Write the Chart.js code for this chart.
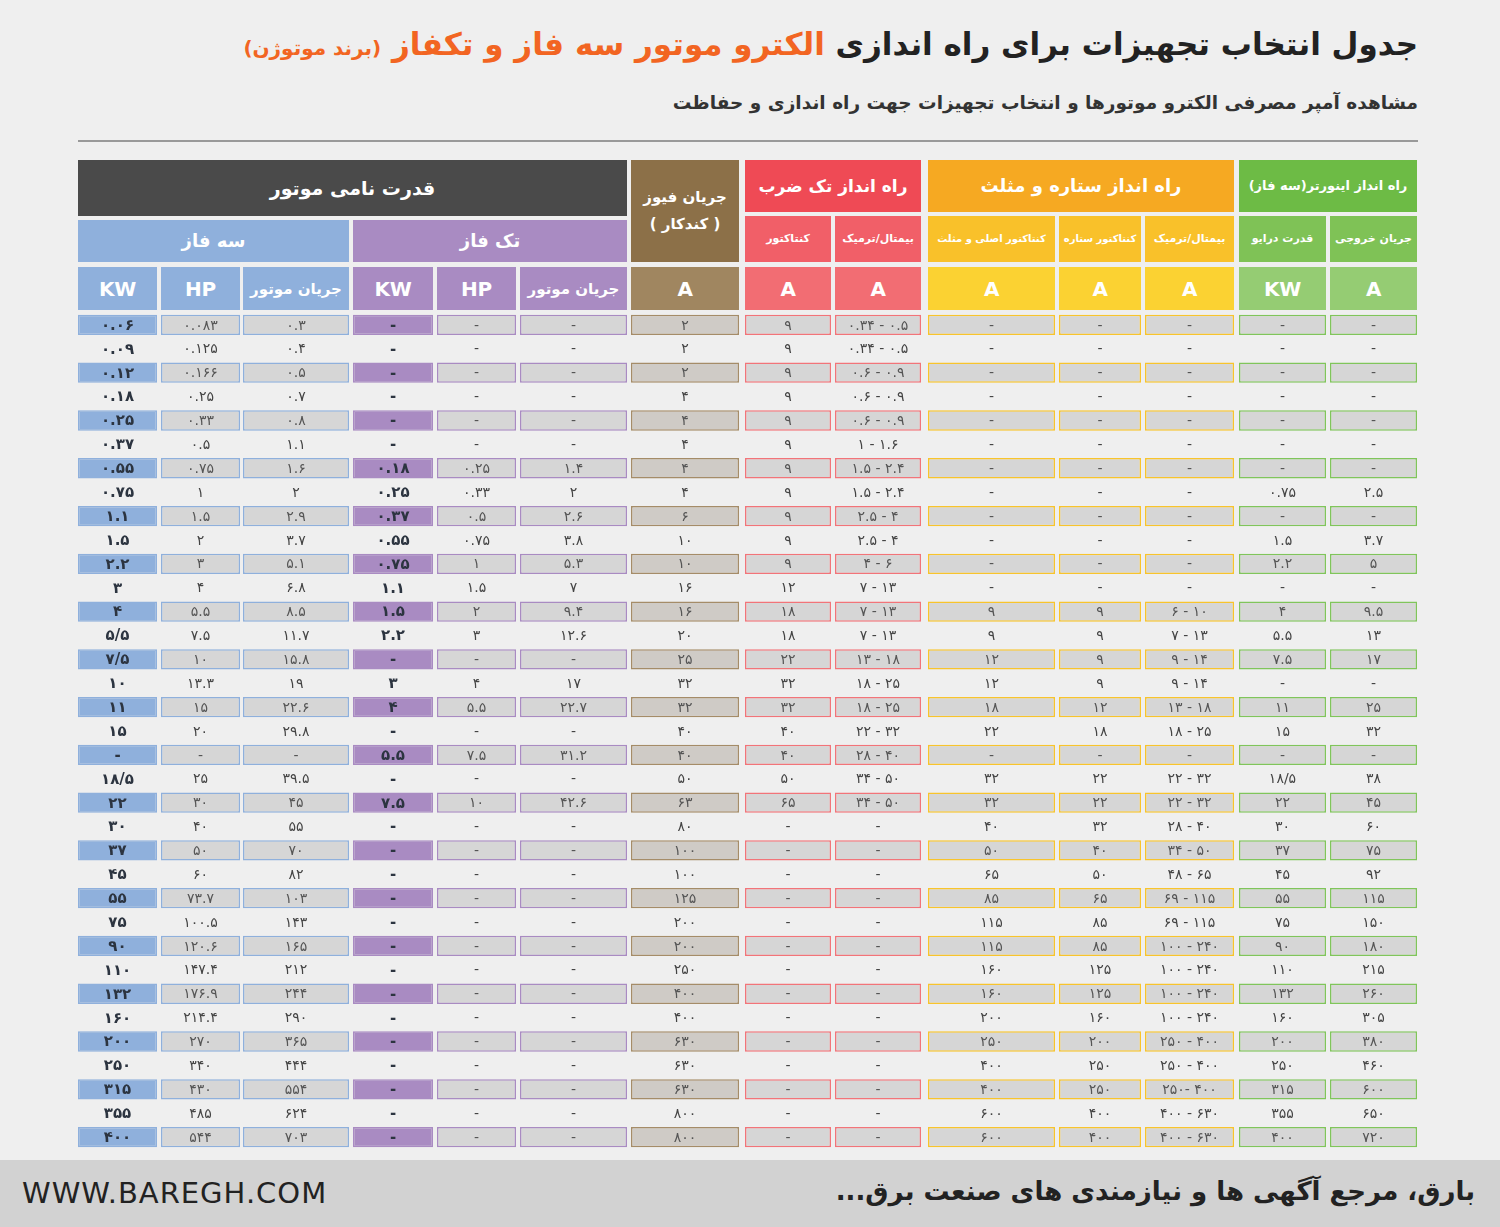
<!DOCTYPE html>
<html><head><meta charset="utf-8">
<script src="https://cdn.jsdelivr.net/npm/chart.js@4"></script>
<style>
body{margin:0;width:1500px;height:1227px;background:#efefef;font-family:"DejaVu Sans",sans-serif;position:relative;overflow:hidden}
.h{position:absolute;display:flex;align-items:center;justify-content:center;font-weight:bold;color:#fff;text-align:center;direction:rtl;white-space:nowrap;letter-spacing:-0.3px}
#title{position:absolute;right:82px;top:26px;font-size:31px;font-weight:bold;direction:rtl;color:#222;white-space:nowrap}
#sub{position:absolute;right:82px;top:92px;font-size:18.5px;font-weight:bold;direction:rtl;color:#333;white-space:nowrap}
#rule{position:absolute;left:78px;top:140px;width:1340px;height:2px;background:#999}
#foot{position:absolute;left:0;top:1160px;width:1500px;height:67px;background:#d2d2d2}
#body{position:absolute;left:78px;top:313px;width:1340px;height:836px}
</style></head><body>
<div id="title">جدول انتخاب تجهیزات برای راه اندازی <span style="color:#f26522">الکترو موتور سه فاز و تکفاز</span> <span style="color:#f26522;font-size:20px">(برند موتوژن)</span></div>
<div id="sub">مشاهده آمپر مصرفی الکترو موتورها و انتخاب تجهیزات جهت راه اندازی و حفاظت</div>
<div id="rule"></div>
<div id="heads"></div>
<div id="body"><canvas id="c"></canvas></div>
<div id="foot">
  <div style="position:absolute;left:22px;top:16px;font-size:29px;color:#222;letter-spacing:1px">WWW.BAREGH.COM</div>
  <div style="position:absolute;right:25px;top:16px;font-size:26px;font-weight:bold;color:#222;direction:rtl">بارق، مرجع آگهی ها و نیازمندی های صنعت برق...</div>
</div>
<script>
// table columns, left to right as drawn
const kw3 = ['0.06','0.09','0.12','0.18','0.25','0.37','0.55','0.75','1.1','1.5','2.2','3','4','5/5','7/5','10','11','15','-','18/5','22','30','37','45','55','75','90','110','132','160','200','250','315','355','400'];
const hp3 = ['0.083','0.125','0.166','0.25','0.33','0.5','0.75','1','1.5','2','3','4','5.5','7.5','10','13.3','15','20','-','25','30','40','50','60','73.7','100.5','120.6','147.4','176.9','214.4','270','340','430','485','544'];
const amp3 = ['0.3','0.4','0.5','0.7','0.8','1.1','1.6','2','2.9','3.7','5.1','6.8','8.5','11.7','15.8','19','22.6','29.8','-','39.5','45','55','70','82','103','143','165','212','244','290','365','444','554','624','703'];
const kw1 = ['-','-','-','-','-','-','0.18','0.25','0.37','0.55','0.75','1.1','1.5','2.2','-','3','4','-','5.5','-','7.5','-','-','-','-','-','-','-','-','-','-','-','-','-','-'];
const hp1 = ['-','-','-','-','-','-','0.25','0.33','0.5','0.75','1','1.5','2','3','-','4','5.5','-','7.5','-','10','-','-','-','-','-','-','-','-','-','-','-','-','-','-'];
const amp1 = ['-','-','-','-','-','-','1.4','2','2.6','3.8','5.3','7','9.4','12.6','-','17','22.7','-','31.2','-','42.6','-','-','-','-','-','-','-','-','-','-','-','-','-','-'];
const fuse = ['2','2','2','4','4','4','4','4','6','10','10','16','16','20','25','32','32','40','40','50','63','80','100','100','125','200','200','250','400','400','630','630','630','800','800'];
const dolCont = ['9','9','9','9','9','9','9','9','9','9','9','12','18','18','22','32','32','40','40','50','65','-','-','-','-','-','-','-','-','-','-','-','-','-','-'];
const dolTherm = ['0.34 - 0.5','0.34 - 0.5','0.6 - 0.9','0.6 - 0.9','0.6 - 0.9','1 - 1.6','1.5 - 2.4','1.5 - 2.4','2.5 - 4','2.5 - 4','4 - 6','7 - 13','7 - 13','7 - 13','13 - 18','18 - 25','18 - 25','22 - 32','28 - 40','34 - 50','34 - 50','-','-','-','-','-','-','-','-','-','-','-','-','-','-'];
const sdMain = ['-','-','-','-','-','-','-','-','-','-','-','-','9','9','12','12','18','22','-','32','32','40','50','65','85','115','115','160','160','200','250','400','400','600','600'];
const sdStar = ['-','-','-','-','-','-','-','-','-','-','-','-','9','9','9','9','12','18','-','22','22','32','40','50','65','85','85','125','125','160','200','250','250','400','400'];
const sdTherm = ['-','-','-','-','-','-','-','-','-','-','-','-','6 - 10','7 - 13','9 - 14','9 - 14','13 - 18','18 - 25','-','22 - 32','22 - 32','28 - 40','34 - 50','48 - 65','69 - 115','69 - 115','100 - 240','100 - 240','100 - 240','100 - 240','250 - 400','250 - 400','250- 400','400 - 630','400 - 630'];
const invKw = ['-','-','-','-','-','-','-','0.75','-','1.5','2.2','-','4','5.5','7.5','-','11','15','-','18/5','22','30','37','45','55','75','90','110','132','160','200','250','315','355','400'];
const invAmp = ['-','-','-','-','-','-','-','2.5','-','3.7','5','-','9.5','13','17','-','25','32','-','38','45','60','75','92','115','150','180','215','260','305','380','460','600','650','720'];

const COLUMNS = [kw3, hp3, amp3, kw1, hp1, amp1, fuse, dolCont, dolTherm, sdMain, sdStar, sdTherm, invKw, invAmp];

// layout: column edges in px relative to table left (78)
const EDGES = [[0,79],[83,162],[165,271],[275,355],[359,438],[442,549],[553,661],[667,753],[757,843],[850,977],[981,1063],[1067,1156],[1161,1248],[1252,1339]];
const BLUE = '#8fb0dc', PURPLE = '#a98bc2', BROWN = '#a58c68', PINK = '#f27479', YELLOW = '#f8c42c', GREEN = '#80c55b';
const STYLE = [
  { fill: BLUE, border: BLUE, bold: true },
  { fill: '#d6d6d6', border: BLUE }, { fill: '#d6d6d6', border: BLUE },
  { fill: PURPLE, border: PURPLE, bold: true },
  { fill: '#d6d6d6', border: PURPLE }, { fill: '#d6d6d6', border: PURPLE },
  { fill: '#cfcbc6', border: BROWN },
  { fill: '#d6d6d6', border: PINK }, { fill: '#d6d6d6', border: PINK },
  { fill: '#d6d6d6', border: YELLOW }, { fill: '#d6d6d6', border: YELLOW }, { fill: '#d6d6d6', border: YELLOW },
  { fill: '#d6d6d6', border: GREEN }, { fill: '#d6d6d6', border: GREEN },
];

const fa = (s) => s.replace(/[0-9]/g, (d) => '۰۱۲۳۴۵۶۷۸۹'[d]);
const rows = kw3.map((_, i) => String(i + 1));

const cellText = {
  id: 'cellText',
  afterDatasetsDraw(chart) {
    const ctx = chart.ctx;
    ctx.save();
    ctx.textAlign = 'center';
    ctx.textBaseline = 'middle';
    chart.data.datasets.forEach((ds, c) => {
      chart.getDatasetMeta(c).data.forEach((el, r) => {
        const { x, base, y } = el.getProps(['x', 'base', 'y'], true);
        const odd = r % 2 === 0;
        ctx.fillStyle = STYLE[c].bold ? '#2c3440' : (odd ? '#555' : '#444');
        ctx.font = `${STYLE[c].bold ? 'bold 15px' : '14px'} "DejaVu Sans", sans-serif`;
        ctx.fillText(fa(COLUMNS[c][r]), (x + base) / 2, y + 1);
      });
    });
    ctx.restore();
  },
};

new Chart(document.getElementById('c'), {
  type: 'bar',
  data: {
    labels: rows,
    datasets: COLUMNS.map((col, c) => ({
      data: col.map(() => EDGES[c]),
      backgroundColor: col.map((_, r) => (r % 2 === 0 ? STYLE[c].fill : 'rgba(0,0,0,0)')),
      borderColor: col.map((_, r) => (r % 2 === 0 ? STYLE[c].border : 'rgba(0,0,0,0)')),
      borderWidth: 1.5,
      borderSkipped: false,
      barPercentage: 1,
      categoryPercentage: 0.85,
      grouped: false,
    })),
  },
  options: {
    indexAxis: 'y',
    responsive: true,
    maintainAspectRatio: false,
    animation: false,
    layout: { padding: 0 },
    plugins: { legend: { display: false }, tooltip: { enabled: false } },
    scales: {
      x: { type: 'linear', min: 0, max: 1340, display: false },
      y: { type: 'category', display: false },
    },
  },
  plugins: [cellText],
});

// header blocks
const HEADS = [
  ['قدرت نامی موتور', 78, 160, 549, 56, '#4a4a4a', 19],
  ['جریان فیوز<br>( کندکار )', 631, 160, 108, 102, '#8c7048', 15],
  ['راه انداز تک ضرب', 745, 160, 176, 52, '#ef4a55', 17],
  ['راه انداز ستاره و مثلث', 928, 160, 306, 52, '#f6a922', 18],
  ['راه انداز اینورتر(سه فاز)', 1239, 160, 178, 52, '#6dbb45', 13],
  ['سه فاز', 78, 220, 271, 42, BLUE, 18],
  ['تک فاز', 353, 220, 274, 42, PURPLE, 18],
  ['کنتاکتور', 745, 216, 86, 46, '#f15f68', 11],
  ['بیمتال/ترمیک', 835, 216, 86, 46, '#f15f68', 11],
  ['کنتاکتور اصلی و مثلث', 928, 216, 127, 46, '#f9c12a', 10],
  ['کنتاکتور ستاره', 1059, 216, 82, 46, '#f9c12a', 10],
  ['بیمتال/ترمیک', 1145, 216, 89, 46, '#f9c12a', 11],
  ['قدرت درایو', 1239, 216, 87, 46, '#7fc256', 11],
  ['جریان خروجی', 1330, 216, 87, 46, '#7fc256', 11],
];
const SUB = ['KW', 'HP', 'جریان موتور', 'KW', 'HP', 'جریان موتور', 'A', 'A', 'A', 'A', 'A', 'A', 'KW', 'A'];
const SUB_COL = [BLUE, BLUE, BLUE, PURPLE, PURPLE, PURPLE, '#a08660', '#f26d73', '#f26d73', '#fbd232', '#fbd232', '#fbd232', '#95cc73', '#95cc73'];
const heads = document.getElementById('heads');
HEADS.forEach(([t, x, y, w, h, bg, fs]) => {
  heads.insertAdjacentHTML('beforeend', `<div class="h" style="left:${x}px;top:${y}px;width:${w}px;height:${h}px;background:${bg};font-size:${fs}px;line-height:1.8">${t}</div>`);
});
SUB.forEach((t, c) => {
  const [a, b] = EDGES[c];
  heads.insertAdjacentHTML('beforeend', `<div class="h" style="left:${78 + a}px;top:267px;width:${b - a}px;height:43px;background:${SUB_COL[c]};font-size:${t.length > 3 ? 15 : 20}px">${t}</div>`);
});
</script>
</body></html>
